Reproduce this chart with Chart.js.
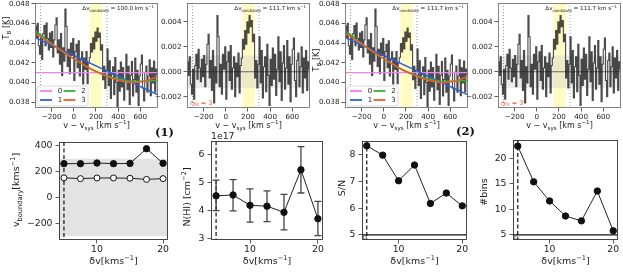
<!DOCTYPE html>
<html><head><meta charset="utf-8">
<script src="https://cdn.jsdelivr.net/npm/chart.js@4.4.1/dist/chart.umd.min.js"></script>
<style>
html,body{margin:0;padding:0;background:#fff;}
#wrap{position:relative;width:623px;height:273px;overflow:hidden;background:#fff;}
#wrap canvas{position:absolute;left:0;top:0;}
.lbl{position:absolute;font-family:"DejaVu Serif",serif;font-weight:bold;font-size:11.5px;color:#111;line-height:12px;}
</style></head><body>
<div id="wrap">
<canvas id="c1" width="623" height="273"></canvas>
<canvas id="c2" width="623" height="273"></canvas>
<canvas id="c3" width="623" height="273"></canvas>
<canvas id="c4" width="623" height="273"></canvas>
<canvas id="c5" width="623" height="273"></canvas>
<canvas id="c6" width="623" height="273"></canvas>
<canvas id="c7" width="623" height="273"></canvas>
<canvas id="c8" width="623" height="273"></canvas>
<div class="lbl" style="left:155px;top:126px;">(1)</div>
<div class="lbl" style="left:456px;top:125px;">(2)</div>
</div>
<script>
// ---------------- DATA ----------------
const channels = [-345,-335,-325,-315,-305,-295,-285,-275,-265,-255,-245,-235,-225,-215,-205,-195,-185,-175,-165,-155,
  -145,-135,-125,-115,-105,-95,-85,-75,-65,-55,-45,-35,-25,-15,-5,
  5,15,25,35,45,55,65,75,85,95,105,115,125,135,145,155,165,175,185,195,205,215,225,235,245,255,265,275,285,295,
  305,315,325,335,345,355,365,375,385,395,405,415,425,435,445,455,465,475,485,495,505,515,525,535,545,555,565,575,585,595,
  605,615,625,635,645,655,665,675,685,695,705,715,725,735,745,755];
const spectrumTB = [0.04576,0.04459,0.04602,0.04375,0.04289,0.04482,0.04235,0.04498,0.04581,0.04374,
  0.04606,0.04449,0.04331,0.04504,0.04356,0.04519,0.04261,0.04434,0.04586,0.04659,
  0.04301,0.04434,0.04186,0.04499,0.04071,0.04354,0.04216,0.04749,0.04571,0.04164,
  0.04337,0.04090,0.04403,0.04276,0.04449,
  0.04022,0.04315,0.04388,0.04151,0.04424,0.04067,0.04230,0.04313,0.03986,0.04249,
  0.04132,0.04315,0.03988,0.04201,0.04254,0.04397,0.04312,0.04456,0.04341,0.04515,
  0.04420,0.04554,0.04459,0.04503,0.04328,0.04383,0.04028,0.04164,0.03939,0.04125,
  0.04340,0.03966,0.04221,0.03837,0.04082,0.04159,0.03876,0.04253,0.04000,0.03757,
  0.04124,0.03911,0.04208,0.03955,0.04152,0.03820,0.04029,0.04288,0.03927,0.04166,
  0.03775,0.04074,0.04213,0.03862,0.04031,0.04250,0.03902,0.04123,0.03765,0.04066,
  0.04188,0.04279,0.03941,0.03813,0.04104,0.04167,0.03901,0.04066,0.04230,0.03865,
  0.04149,0.03994,0.04218,0.03903,0.04138,0.04082];
const residualTB = [0.0008,-0.0003,0.0012,-0.0010,-0.0018,0.0002,-0.0022,0.0005,0.0014,-0.0006,
  0.0018,0.0003,-0.0008,0.0010,-0.0004,0.0013,-0.0012,0.0006,0.0022,0.0030,
  -0.0005,0.0009,-0.0015,0.0017,-0.0025,0.0004,-0.0009,0.0045,0.0028,-0.0012,
  0.0006,-0.0018,0.0014,0.0002,0.0020,
  -0.0022,0.0008,0.0016,-0.0007,0.0021,-0.0014,0.0003,0.0012,-0.0020,0.0007,
  -0.0004,0.0015,-0.0017,0.0005,0.0011,0.0026,0.0018,0.0033,0.0022,0.0040,
  0.0031,0.0045,0.0036,0.0041,0.0024,0.0030,-0.0005,0.0009,-0.0013,0.0006,
  0.0028,-0.0009,0.0017,-0.0021,0.0004,0.0012,-0.0016,0.0022,-0.0003,-0.0027,
  0.0010,-0.0011,0.0019,-0.0006,0.0014,-0.0019,0.0002,0.0028,-0.0008,0.0016,
  -0.0023,0.0007,0.0021,-0.0014,0.0003,0.0025,-0.0010,0.0012,-0.0024,0.0006,
  0.0018,0.0027,-0.0007,-0.0020,0.0009,0.0015,-0.0012,0.0004,0.0020,-0.0017,
  0.0011,-0.0005,0.0017,-0.0015,0.0008,0.0002];
const fitX0 = [-350, 760];
const fit0 = [0.0410, 0.0410];
const fitX1 = [-350, 760];
const fit1 = [0.0446, 0.03875];
const fitX = [-350,-250,-150,-50,50,150,250,350,450,550,650,760];
const fit2 = [0.0453,0.0444,0.04355,0.04275,0.04205,0.0414,0.0409,0.0405,0.04025,0.04012,0.04012,0.04024];
const fit3 = [0.0450,0.0443,0.04355,0.0428,0.0421,0.0414,0.04085,0.0404,0.0401,0.0400,0.04015,0.04065];
const fitOrders = ['0','1','2','3'];
const dvCandidate = ['100.0','111.7','111.7','111.7'];
const bandLo = [145, 150, 150, 150];
const bandHi = [252, 262, 262, 262];
const windowEdges = [-300, 300];
const rmsBand = 0.0013;
const nFit = '3';
const topXTicks = [-200,0,200,400,600];
const specYTicks = [0.038,0.040,0.042,0.044,0.046,0.048];
const residYTicks = [-0.002,0.000,0.002,0.004];

const dv = [5,7.5,10,12.5,15,17.5,20];
const vbFilled = [262,262,267,262,264,378,265];
const vbOpen = [152,146,151,151,149,140,146];
const vbBand = [-300, 300];
const nhi = [4.52e17,4.55e17,4.18e17,4.15e17,3.93e17,5.45e17,3.70e17];
const nhiUp = [5.08e17,5.10e17,4.77e17,4.70e17,4.57e17,6.28e17,4.32e17];
const nhiLow = [3.99e17,3.98e17,3.58e17,3.60e17,3.30e17,4.62e17,3.10e17];
const snr = [8.34,7.99,7.03,7.62,6.18,6.57,6.09];
const nbins = [22.4,15.4,11.65,8.7,7.75,13.6,5.8];
const threshold = 5;
const dvChosen = 5;
const dvXTicks = [10,20];
const vbYTicks = [-200,0,200,400];
const nhiYTicks = [3e17,4e17,5e17,6e17];
const snrYTicks = [5,6,7,8];
const nbinsYTicks = [5,10,15,20];

// ---------------- STYLE / LAYOUT ----------------
const FONT = '"DejaVu Sans", sans-serif';
const COL = {pink:'#ee82ee', blue:'#2a62dd', green:'#36b236', orange:'#f45b2a', spec:'rgba(30,30,30,0.8)'};
const YW = 32, XH = 30, CW = 623, CHH = 273;

function richWidth(ctx, parts, size){
  let w=0; for(const [t,m] of parts){ ctx.font=(m==='n'?size:size*0.7)+'px '+FONT; w+=ctx.measureText(t).width; } return w;
}
function drawRich(ctx, parts, x, y, o){
  ctx.save(); ctx.translate(x,y); if(o.rot) ctx.rotate(o.rot);
  const size=o.size, w=richWidth(ctx,parts,size);
  let cx = o.align==='center' ? -w/2 : (o.align==='right' ? -w : 0);
  ctx.fillStyle=o.color||'#222'; ctx.textBaseline='middle'; ctx.textAlign='left';
  for(const [t,m] of parts){
    const s = m==='n'?size:size*0.7; ctx.font=s+'px '+FONT;
    const dy = m==='b'? size*0.3 : (m==='p'? -size*0.38 : 0);
    ctx.fillText(t,cx,dy); cx+=ctx.measureText(t).width;
  }
  ctx.restore();
}
const minus = s => String(s).replace('-', '\u2212');

function mk(id, rect, cfg){
  const tickFont = {family:FONT, size:cfg.fs};
  const grid = {display:true, drawOnChartArea:false, drawTicks:true, tickLength:3.5, color:'#333', lineWidth:0.8};
  return new Chart(document.getElementById(id), {
    type:'line',
    data:{datasets:cfg.datasets},
    options:{
      responsive:false, animation:false, devicePixelRatio:1, events:[],
      layout:{padding:{left:rect.l-YW, top:rect.t, right:CW-rect.r, bottom:CHH-rect.b-XH}},
      plugins:{legend:{display:false}, tooltip:{enabled:false}},
      scales:{
        x:{type:'linear', min:cfg.xr[0], max:cfg.xr[1],
           afterFit:s=>{s.height=XH; s.paddingLeft=0; s.paddingRight=0;},
           afterBuildTicks:s=>{s.ticks=cfg.xt.map(v=>({value:v}));},
           ticks:{font:tickFont, color:'#222', padding:cfg.xpad, maxRotation:0, autoSkip:false, callback:cfg.xf},
           grid:grid, border:{display:false}},
        y:{type:'linear', min:cfg.yr[0], max:cfg.yr[1],
           afterFit:s=>{s.width=YW; s.paddingTop=0; s.paddingBottom=0;},
           afterBuildTicks:s=>{s.ticks=cfg.yt.map(v=>({value:v}));},
           ticks:{font:tickFont, color:'#222', padding:cfg.ypad, autoSkip:false, callback:cfg.yf},
           grid:grid, border:{display:false}}
      }
    },
    plugins:[{id:'deco'+id,
      beforeDatasetsDraw:(c)=>{ const ctx=c.ctx, a=c.chartArea; ctx.save(); ctx.beginPath(); ctx.rect(a.left,a.top,a.right-a.left,a.bottom-a.top); ctx.clip(); if(cfg.under) cfg.under(c,ctx,a); ctx.restore(); },
      afterDraw:(c)=>{ const ctx=c.ctx, a=c.chartArea; ctx.save(); ctx.strokeStyle=cfg.boxCol||'#333'; ctx.lineWidth=0.9; ctx.strokeRect(a.left+0.5,a.top+0.5,a.right-a.left-1,a.bottom-a.top-1); ctx.restore(); if(cfg.over) cfg.over(c,ctx,a); }
    }]
  });
}
const X = (c,v)=>c.scales.x.getPixelForValue(v);
const Y = (c,v)=>c.scales.y.getPixelForValue(v);
const pts = (xs,ys)=>xs.map((x,i)=>({x:x,y:ys[i]}));

// -------- top panels --------
const TOP = [
  {id:'c1', rect:{l:35,t:3,r:158,b:108}, kind:'spec', ytx:7, yty:28},
  {id:'c2', rect:{l:187,t:3,r:310,b:108}, kind:'resid'},
  {id:'c3', rect:{l:345,t:3,r:468,b:108}, kind:'spec', ytx:317, yty:60},
  {id:'c4', rect:{l:498,t:3,r:621,b:108}, kind:'resid'}
];
TOP.forEach((p,k)=>{
  const spec = p.kind==='spec';
  const ds = [];
  if(spec){
    ds.push({data:pts(fitX0,fit0), borderColor:COL.pink, borderWidth:1.4, pointRadius:0, order:4});
    ds.push({data:pts(fitX1,fit1), borderColor:COL.blue, borderWidth:1.5, pointRadius:0, order:3});
    ds.push({data:pts(fitX,fit2), borderColor:COL.green, borderWidth:1.5, pointRadius:0, cubicInterpolationMode:'monotone', order:2});
    ds.push({data:pts(fitX,fit3), borderColor:COL.orange, borderWidth:1.5, pointRadius:0, cubicInterpolationMode:'monotone', order:1});
    ds.push({data:pts(channels,spectrumTB), borderColor:COL.spec, borderWidth:1.1, pointRadius:0, stepped:'middle', order:10});
  } else {
    ds.push({data:pts(channels,residualTB), borderColor:COL.spec, borderWidth:1.1, pointRadius:0, stepped:'middle', order:10});
  }
  mk(p.id, p.rect, {
    datasets:ds, fs:7.2, xpad:1, ypad:2, boxCol:'#777',
    xr:[-350,760], yr: spec?[0.0374,0.0481]:[-0.0029,0.0055],
    xt:topXTicks, yt: spec?specYTicks:residYTicks,
    xf:v=>minus(v), yf:v=>minus(v.toFixed(3)),
    under:(c,ctx,a)=>{
      ctx.fillStyle='rgba(255,250,175,0.75)';
      ctx.fillRect(X(c,bandLo[k]),a.top,X(c,bandHi[k])-X(c,bandLo[k]),a.bottom-a.top);
      if(!spec){
        ctx.fillStyle='rgba(200,200,200,0.35)';
        ctx.fillRect(a.left,Y(c,rmsBand),a.right-a.left,Y(c,-rmsBand)-Y(c,rmsBand));
        ctx.strokeStyle='#666'; ctx.lineWidth=1; ctx.beginPath(); ctx.moveTo(a.left,Y(c,0)); ctx.lineTo(a.right,Y(c,0)); ctx.stroke();
      }
      ctx.strokeStyle='#999'; ctx.lineWidth=1; ctx.setLineDash([1,2]);
      windowEdges.forEach(v=>{ctx.beginPath(); ctx.moveTo(X(c,v),a.top); ctx.lineTo(X(c,v),a.bottom); ctx.stroke();});
      ctx.setLineDash([]);
    },
    over:(c,ctx,a)=>{
      drawRich(ctx,[['\u0394v','n'],['candidate','b'],[' = '+dvCandidate[k]+' km s','n'],['\u22121','p']], a.right-4, a.top+6, {size:5.6, align:'right', color:'#222'});
      drawRich(ctx,[['v \u2212 v','n'],['sys','b'],[' [km s','n'],['\u22121','p'],[']','n']], (a.left+a.right)/2, 126, {size:8, align:'center'});
      if(spec){
        drawRich(ctx,[['T','n'],['B','b'],[' [K]','n']], p.ytx, p.yty, {size:8, align:'center', rot:-Math.PI/2});
        const x0=a.left+2, y0=a.bottom-22, w=51, h=20;
        ctx.save(); ctx.fillStyle='rgba(255,255,255,0.85)'; ctx.strokeStyle='#cfcfcf'; ctx.lineWidth=0.8;
        ctx.beginPath(); if(ctx.roundRect) ctx.roundRect(x0,y0,w,h,2); else ctx.rect(x0,y0,w,h); ctx.fill(); ctx.stroke();
        const ent=[[0,0,COL.pink],[0,1,COL.blue],[1,0,COL.green],[1,1,COL.orange]];
        const labs=[fitOrders[0],fitOrders[1],fitOrders[2],fitOrders[3]];
        ent.forEach((e,i)=>{
          const lx=x0+3+e[0]*23.5, ly=y0+5+e[1]*9;
          ctx.strokeStyle=e[2]; ctx.lineWidth=1.8; ctx.beginPath(); ctx.moveTo(lx,ly); ctx.lineTo(lx+12,ly); ctx.stroke();
          ctx.fillStyle='#222'; ctx.font='7px '+FONT; ctx.textAlign='center'; ctx.textBaseline='middle';
          ctx.fillText(labs[i], lx+20, ly);
        });
        ctx.restore();
      } else {
        drawRich(ctx,[['n','n'],['fit','b'],[' = '+nFit,'n']], a.left+3, a.bottom-5, {size:6.5, align:'left', color:COL.orange});
      }
    }
  });
});

// -------- bottom panels --------
const dotFilled = {pointRadius:3.2, pointBackgroundColor:'#111', pointBorderColor:'#111', borderColor:'#222', borderWidth:1};
const BOT = [
  {id:'c5', rect:{l:59,t:142,r:168,b:240}, yr:[-330,430], yt:vbYTicks, yf:v=>minus(v),
   ds:[Object.assign({data:pts(dv,vbFilled), order:1}, dotFilled),
       {data:pts(dv,vbOpen), order:2, pointRadius:3, pointBackgroundColor:'#fff', pointBorderColor:'#111', pointBorderWidth:1, borderColor:'#222', borderWidth:1}],
   ytitle:[['v','n'],['boundary','b'],['[kms','n'],['\u22121','p'],[']','n']], ytx:17, yty:190, band:true},
  {id:'c6', rect:{l:211,t:141,r:323,b:240}, yr:[2.94e17,6.48e17], yt:nhiYTicks, yf:v=>String(Math.round(v/1e17)),
   ds:[Object.assign({data:pts(dv,nhi), order:1}, dotFilled)],
   ytitle:[['N(HI) [cm','n'],['\u22122','p'],[']','n']], ytx:188, yty:197, err:true, offset:'1e17'},
  {id:'c7', rect:{l:362,t:141,r:467,b:240}, yr:[4.81,8.52], yt:snrYTicks, yf:v=>String(v),
   ds:[Object.assign({data:pts(dv,snr), order:1}, dotFilled)],
   ytitle:[['S/N','n']], ytx:343, yty:188, thr:true},
  {id:'c8', rect:{l:513,t:140,r:618,b:240}, yr:[4.0,23.6], yt:nbinsYTicks, yf:v=>String(v),
   ds:[Object.assign({data:pts(dv,nbins), order:1}, dotFilled)],
   ytitle:[['#bins','n']], ytx:485, yty:192, thr:true}
];
BOT.forEach(p=>{
  mk(p.id, p.rect, {
    datasets:p.ds, fs:9.3, xpad:0.5, ypad:3, boxCol:'#333',
    xr:[4.25,20.75], yr:p.yr, xt:dvXTicks, yt:p.yt, xf:v=>String(v), yf:p.yf,
    under:(c,ctx,a)=>{
      if(p.band){ ctx.fillStyle='#e3e3e3'; ctx.fillRect(a.left,Y(c,vbBand[1]),a.right-a.left,Y(c,vbBand[0])-Y(c,vbBand[1])); }
      if(p.thr){
        ctx.strokeStyle='#777'; ctx.lineWidth=0.8; ctx.strokeRect(a.left+1.5,Y(c,threshold)+1,X(c,dvChosen)-a.left-2,a.bottom-Y(c,threshold)-2);
        ctx.strokeStyle='#111'; ctx.lineWidth=1.3; ctx.beginPath(); ctx.moveTo(a.left,Y(c,threshold)); ctx.lineTo(a.right,Y(c,threshold)); ctx.stroke();
      }
      ctx.strokeStyle='#111'; ctx.lineWidth=1.2; ctx.setLineDash([4,2.5]);
      ctx.beginPath(); ctx.moveTo(X(c,dvChosen),a.top); ctx.lineTo(X(c,dvChosen),a.bottom); ctx.stroke(); ctx.setLineDash([]);
      if(p.err){
        ctx.strokeStyle='#444'; ctx.lineWidth=1.3;
        dv.forEach((d,i)=>{ const x=X(c,d), y1=Y(c,nhiUp[i]), y2=Y(c,nhiLow[i]);
          ctx.beginPath(); ctx.moveTo(x,y1); ctx.lineTo(x,y2); ctx.moveTo(x-3.5,y1); ctx.lineTo(x+3.5,y1); ctx.moveTo(x-3.5,y2); ctx.lineTo(x+3.5,y2); ctx.stroke(); });
      }
    },
    over:(c,ctx,a)=>{
      drawRich(ctx,[['\u03b4v[kms','n'],['\u22121','p'],[']','n']], (a.left+a.right)/2, 262, {size:9.5, align:'center'});
      drawRich(ctx,p.ytitle, p.ytx, p.yty, {size:9.5, align:'center', rot:-Math.PI/2});
      if(p.offset) drawRich(ctx,[[p.offset,'n']], a.left, 136.5, {size:9.3, align:'left'});
    }
  });
});
</script>
</body></html>
